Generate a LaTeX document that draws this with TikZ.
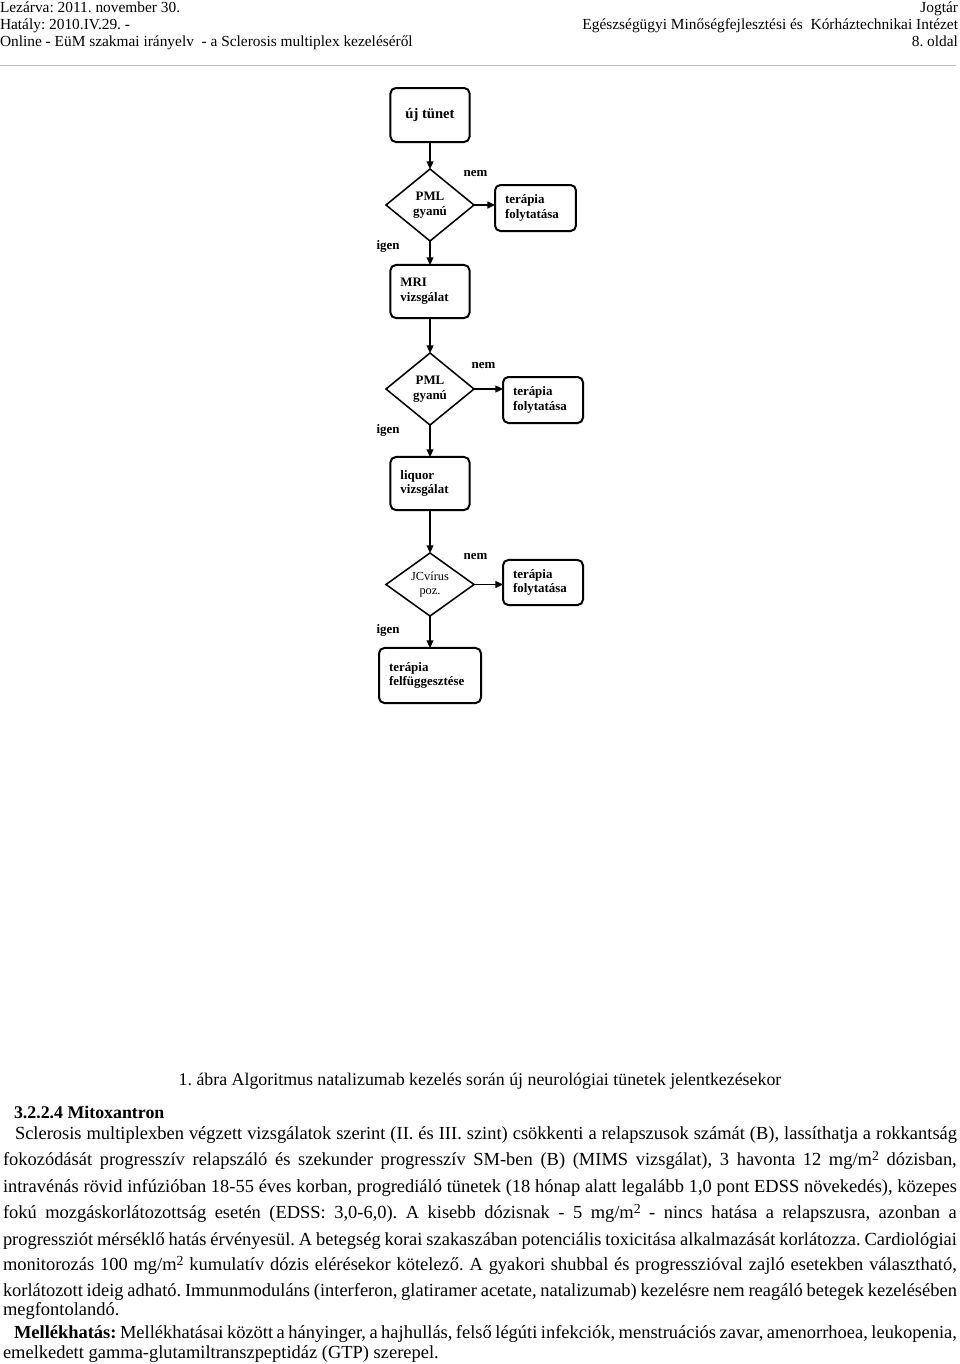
\documentclass[tikz,border=0pt]{standalone}
\usepackage{fontspec}
\setmainfont{Liberation Serif}
\usetikzlibrary{shapes.geometric,arrows.meta}
\frenchspacing
\newcommand{\chartfont}{\fontsize{8.4}{9.6}\selectfont\bfseries}
\newcommand{\sqm}{\raisebox{0.55ex}{\fontsize{9}{9}\selectfont 2}}
\newcommand{\jline}[2]{\hbox to #1{#2}}

\begin{document}
\begin{tikzpicture}[x=0.65pt, y=-0.65pt,
    every node/.style={inner sep=0pt, outer sep=0pt},
    hdr/.style={font=\fontsize{10}{12}\selectfont},
    txt/.style={font=\fontsize{12}{14}\selectfont, anchor=base west},
    box/.style={draw, line width=1.3pt, rounded corners=3.5pt, font=\chartfont, align=left, inner xsep=6.5pt},
    decision/.style={draw, diamond, line width=1pt, font=\chartfont, align=center, minimum width=57.2pt, minimum height=46.8pt},
    answer/.style={font=\chartfont},
    flow/.style={-{Triangle[length=5pt,width=4.5pt]}, line width=1pt}]
    \useasboundingbox (0,0) rectangle (960,1364);

    % header
    \node[hdr, anchor=base west] (hl1) at (0,12) {Lezárva: 2011. november 30.};
    \node[hdr, anchor=base west] (hl2) at (0,29) {Hatály: 2010.IV.29. -};
    \node[hdr, anchor=base west] (hl3) at (0,46) {Online - EüM szakmai irányelv\ \ - a Sclerosis multiplex kezeléséről};
    \node[hdr, anchor=base east] (hr1) at (958,12) {Jogtár};
    \node[hdr, anchor=base east] (hr2) at (958,29) {Egészségügyi Minőségfejlesztési és\ \ Kórháztechnikai Intézet};
    \node[hdr, anchor=base east] (hr3) at (958,46) {8. oldal};
    \draw[gray!50, line width=0.6pt] (0,65) -- (956,65);

    % flowchart
    \node[box, align=center, font=\fontsize{9.5}{11}\selectfont\bfseries, minimum width=51.4pt, minimum height=35.1pt] (uj) at (430,115) {új tünet};
    \node[decision] (pml1) at (430,205) {PML\\gyanú};
    \node[box, text width=39.6pt, minimum height=29.9pt] (tov1) at (535.5,208) {terápia\\folytatása};
    \node[answer] (nem1) at (475.5,174) {nem};
    \node[answer] (igen1) at (388,246) {igen};
    \node[box, text width=38.4pt, minimum height=34.5pt] (mri) at (430,291.5) {MRI\\vizsgálat};
    \node[decision] (pml2) at (430,389) {PML\\gyanú};
    \node[box, text width=39pt, minimum height=29.9pt] (tov2) at (543,400) {terápia\\folytatása};
    \node[answer] (nem2) at (483.5,366) {nem};
    \node[answer] (igen2) at (388,430) {igen};
    \node[box, text width=38.4pt, minimum height=34.5pt] (liquor) at (430,483.5) {liquor\\vizsgálat};
    \node[decision, minimum height=41pt, font=\fontsize{8}{9.2}\selectfont] (jcv) at (430,584.5) {JCvírus\\poz.};
    \node[box, text width=39pt, minimum height=29.3pt] (tov3) at (543,582.5) {terápia\\folytatása};
    \node[answer] (nem3) at (475.5,557) {nem};
    \node[answer] (igen3) at (388,630) {igen};
    \node[box, text width=53.3pt, minimum height=35.8pt] (stop) at (430,675.5) {terápia\\felfüggesztése};

    \draw[flow] (uj) -- (pml1);
    \draw[flow] (pml1.east) -- (pml1.east -| tov1.west);
    \draw[flow] (pml1) -- (mri);
    \draw[flow] (mri) -- (pml2);
    \draw[flow] (pml2.east) -- (pml2.east -| tov2.west);
    \draw[flow] (pml2) -- (liquor);
    \draw[flow] (liquor) -- (jcv);
    \draw[flow] (jcv.east) -- (jcv.east -| tov3.west);
    \draw[flow] (jcv) -- (stop);

    % caption and text
    \node[font=\fontsize{11.6}{14}\selectfont, anchor=base] (abra) at (480,1085) {1. ábra Algoritmus natalizumab kezelés során új neurológiai tünetek jelentkezésekor};
    \node[txt, font=\fontsize{11.6}{14}\selectfont\bfseries] (cim) at (14,1118) {3.2.2.4 Mitoxantron};
    \node[txt] (p1) at (15,1139) {\jline{612.3pt}{Sclerosis multiplexben végzett vizsgálatok szerint (II. és III. szint) csökkenti a relapszusok számát (B), lassíthatja a rokkantság}};
    \node[txt] (p2) at (3,1165) {\jline{620pt}{fokozódását progresszív relapszáló és szekunder progresszív SM-ben (B) (MIMS vizsgálat), 3 havonta 12 mg/m\sqm{} dózisban,}};
    \node[txt] (p3) at (3,1192) {\jline{620pt}{intravénás rövid infúzióban 18-55 éves korban, progrediáló tünetek (18 hónap alatt legalább 1,0 pont EDSS növekedés), közepes}};
    \node[txt] (p4) at (3,1218) {\jline{620pt}{fokú mozgáskorlátozottság esetén (EDSS: 3,0-6,0). A kisebb dózisnak - 5 mg/m\sqm{} - nincs hatása a relapszusra, azonban a}};
    \node[txt] (p5) at (3,1245) {\jline{620pt}{progressziót mérséklő hatás érvényesül. A betegség korai szakaszában potenciális toxicitása alkalmazását korlátozza. Cardiológiai}};
    \node[txt] (p6) at (3,1270) {\jline{620pt}{monitorozás 100 mg/m\sqm{} kumulatív dózis elérésekor kötelező. A gyakori shubbal és progresszióval zajló esetekben választható,}};
    \node[txt] (p7) at (3,1296) {\jline{620pt}{korlátozott ideig adható. Immunmoduláns (interferon, glatiramer acetate, natalizumab) kezelésre nem reagáló betegek kezelésében}};
    \node[txt] (p8) at (3,1315) {megfontolandó.};
    \node[txt] (p9) at (14,1338) {\jline{612.9pt}{\textbf{Mellékhatás:} Mellékhatásai között a hányinger, a hajhullás, felső légúti infekciók, menstruációs zavar, amenorrhoea, leukopenia,}};
    \node[txt] (p10) at (3,1358) {emelkedett gamma-glutamiltranszpeptidáz (GTP) szerepel.};
\end{tikzpicture}
\end{document}
